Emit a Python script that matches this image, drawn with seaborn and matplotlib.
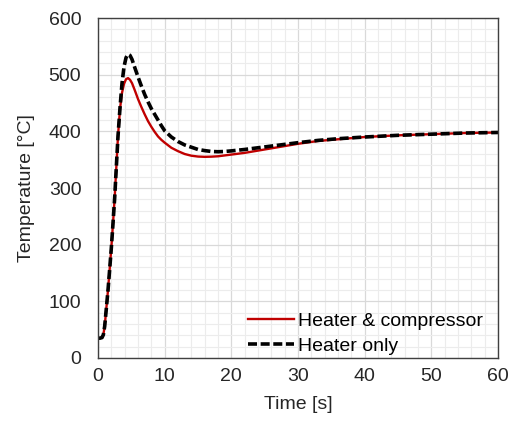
import matplotlib.pyplot as plt
import numpy as np
import pandas as pd
import seaborn as sns
from matplotlib.ticker import MultipleLocator

# time [s]
time_s = [0, 0.3, 0.6, 0.8, 1.0, 1.25, 1.5, 1.75, 2.0, 2.25, 2.5, 2.75, 3.0, 3.3, 3.6, 3.9,
          4.2, 4.5, 4.8, 5.1, 5.5, 6.0, 6.5, 7.0, 7.5, 8.0, 8.5, 9, 9.5, 10, 11, 12, 13, 14,
          15, 16, 17, 18, 19, 20, 22, 24, 26, 28, 30, 33, 36, 40, 45, 50, 55, 60]

# temperature [°C]
heater_compressor = [35, 35, 36, 41, 56, 88, 120, 157, 195, 238, 283, 338, 392, 440, 468, 484,
                     492, 494, 491, 485, 473, 457, 443, 430, 418, 408, 399, 391, 385, 380, 371,
                     365, 360, 357, 355.5, 355, 355.3, 356, 357.5, 359, 362, 366, 370, 374, 378,
                     383, 386, 390, 393, 395, 397, 398]
heater_only = [35, 35, 36, 41, 56, 88, 120, 157, 195, 238, 283, 338, 392, 442, 485, 514,
               530, 536, 534, 527, 513, 496, 480, 465, 452, 440, 430, 420, 410, 401, 390,
               382, 376, 372, 368, 366, 364.5, 364, 364.5, 365.5, 368, 371, 374, 377, 380,
               384, 387, 390, 393, 395, 397, 398]

plt.rcParams['font.family'] = 'Liberation Sans'
plt.rcParams['font.size'] = 14

df = pd.DataFrame({'Time': time_s, 'HC': heater_compressor, 'H': heater_only})

fig, ax = plt.subplots(figsize=(5.14, 4.23), dpi=100)
fig.subplots_adjust(left=0.1907, right=0.969, top=0.9574, bottom=0.1537)

sns.lineplot(x='Time', y='HC', data=df, ax=ax, color='#c00000', linewidth=1.7,
             label='Heater & compressor')
sns.lineplot(x='Time', y='H', data=df, ax=ax, color='black', linewidth=2.6,
             label='Heater only')
ax.lines[1].set_dashes([2.5, 1.0])
for ln in ax.lines:
    ln.set_solid_joinstyle('round')
    ln.set_dash_joinstyle('round')

ax.set_xlim(0, 60)
ax.set_ylim(0, 600)
ax.xaxis.set_major_locator(MultipleLocator(10))
ax.xaxis.set_minor_locator(MultipleLocator(2))
ax.yaxis.set_major_locator(MultipleLocator(100))
ax.yaxis.set_minor_locator(MultipleLocator(20))
ax.grid(which='major', color='#d9d9d9', linewidth=0.9)
ax.grid(which='minor', color='#ececec', linewidth=0.8)
ax.set_axisbelow(True)
ax.tick_params(which='both', length=0, labelsize=14, colors='#262626')
ax.tick_params(axis='x', pad=7)
ax.tick_params(axis='y', pad=12)
for s in ax.spines.values():
    s.set_color('#404040')
    s.set_linewidth(1.0)

ax.set_xlabel('Time [s]', fontsize=14, labelpad=8, color='#262626')
ax.set_ylabel('Temperature [°C]', fontsize=14, labelpad=10, color='#262626')

ax.legend(loc='lower right', bbox_to_anchor=(0.97, 0.0), frameon=False, fontsize=14,
          handlelength=2.4, handletextpad=0.2, labelspacing=0.39, borderaxespad=0.15,
          borderpad=0)

plt.savefig('out.png', dpi=100)
